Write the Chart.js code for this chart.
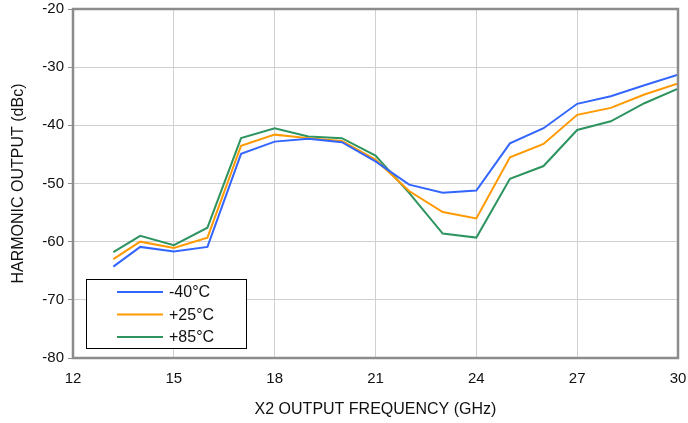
<!DOCTYPE html>
<html lang="en">
<head>
  <meta charset="UTF-8">
  <title>Harmonic Output vs. X2 Output Frequency</title>
  <script src="https://cdn.jsdelivr.net/npm/chart.js"></script>
  <style>
    html, body { margin: 0; padding: 0; background: #fff; }
    .chart-container { width: 688px; height: 423px; position: relative; }
  </style>
</head>
<body>
  <div class="chart-container">
    <canvas id="harmonicChart"></canvas>
  </div>

<script>
// X2 output frequency (GHz)
const freq = [13.2, 14, 15, 16, 17, 18, 19, 20, 21, 22, 23, 24, 25, 26, 27, 28, 29, 30];
// Harmonic output (dBc) per temperature
const tMinus40 = [-64.3, -60.9, -61.7, -60.9, -44.9, -42.8, -42.3, -42.9, -46.2, -50.2, -51.6, -51.2, -43.1, -40.5, -36.3, -35.0, -33.1, -31.3];
const tPlus25 = [-63.0, -60.0, -61.1, -59.3, -43.5, -41.6, -42.2, -42.7, -45.9, -51.3, -54.9, -56.0, -45.5, -43.2, -38.2, -37.0, -34.7, -32.8];
const tPlus85 = [-61.8, -59.0, -60.6, -57.6, -42.2, -40.5, -41.9, -42.2, -45.2, -51.6, -58.6, -59.3, -49.2, -47.0, -40.8, -39.3, -36.2, -33.7];
const seriesLabels = ['-40°C', '+25°C', '+85°C'];

const toPoints = (ys) => ys.map((y, i) => ({ x: freq[i], y: y }));

// frame around the plot area (top/right sides are not drawn by the axes)
const plotFrame = {
  id: 'plotFrame',
  afterDatasetsDraw(chart) {
    const { ctx, chartArea: a } = chart;
    ctx.save();
    ctx.strokeStyle = '#8c8c8c';
    ctx.lineWidth = 2.5;
    ctx.strokeRect(a.left, a.top, a.right - a.left, a.bottom - a.top);
    ctx.restore();
  }
};

// legend box in the lower left of the plot
const boxLegend = {
  id: 'boxLegend',
  afterDraw(chart) {
    const { ctx } = chart;
    const x0 = 86, y0 = 279, w = 160, h = 69;
    ctx.save();
    ctx.fillStyle = '#fff';
    ctx.fillRect(x0, y0, w, h);
    ctx.strokeStyle = '#000';
    ctx.lineWidth = 1;
    ctx.strokeRect(x0 + 0.5, y0 + 0.5, w, h);
    ctx.font = '16px "Liberation Sans", Arial, sans-serif';
    ctx.textBaseline = 'middle';
    chart.data.datasets.forEach((ds, i) => {
      const y = 292 + i * 22.5;
      ctx.strokeStyle = ds.borderColor;
      ctx.lineWidth = 2;
      ctx.beginPath();
      ctx.moveTo(117, y);
      ctx.lineTo(163, y);
      ctx.stroke();
      ctx.fillStyle = '#111';
      ctx.fillText(ds.label, 169, y + 1);
    });
    ctx.restore();
  }
};

// keep the plot area fixed: ignore the extra room scales ask for their edge labels
function noEdgePadding(scale) {
  scale.paddingTop = 0;
  scale.paddingBottom = 0;
  scale.paddingLeft = 0;
  scale.paddingRight = 0;
}

new Chart(document.getElementById('harmonicChart'), {
  type: 'line',
  data: {
    datasets: [
      { label: seriesLabels[0], data: toPoints(tMinus40), borderColor: '#3366ff' },
      { label: seriesLabels[1], data: toPoints(tPlus25), borderColor: '#ff9900' },
      { label: seriesLabels[2], data: toPoints(tPlus85), borderColor: '#2e9460' }
    ]
  },
  options: {
    responsive: true,
    maintainAspectRatio: false,
    animation: false,
    layout: { padding: { left: 0, right: 10, top: 9, bottom: 0 } },
    elements: {
      line: { borderWidth: 2, tension: 0 },
      point: { radius: 0 }
    },
    plugins: {
      legend: { display: false },
      tooltip: { enabled: false }
    },
    scales: {
      x: {
        type: 'linear',
        min: 12, max: 30,
        ticks: {
          stepSize: 3,
          color: '#111',
          padding: 12,
          font: { size: 15, family: '"Liberation Sans", Arial, sans-serif' }
        },
        grid: { color: '#d0d0d0', lineWidth: 1, drawTicks: false },
        border: { display: false },
        title: {
          display: true,
          text: 'X2 OUTPUT FREQUENCY (GHz)',
          color: '#111',
          padding: { top: 6, bottom: 4 },
          font: { size: 16, family: '"Liberation Sans", Arial, sans-serif' }
        },
        afterFit(scale) { scale.height = 65; noEdgePadding(scale); }
      },
      y: {
        min: -80, max: -20,
        ticks: {
          stepSize: 10,
          color: '#111',
          padding: 4,
          font: { size: 15, family: '"Liberation Sans", Arial, sans-serif' }
        },
        grid: { color: '#d0d0d0', lineWidth: 1, tickLength: 5, tickColor: '#8c8c8c' },
        border: { display: false },
        title: {
          display: true,
          text: 'HARMONIC OUTPUT (dBc)',
          color: '#111',
          padding: { top: 9, bottom: 6 },
          font: { size: 16, family: '"Liberation Sans", Arial, sans-serif' }
        },
        afterFit(scale) { scale.width = 73; noEdgePadding(scale); }
      }
    }
  },
  plugins: [plotFrame, boxLegend]
});
</script>
</body>
</html>
